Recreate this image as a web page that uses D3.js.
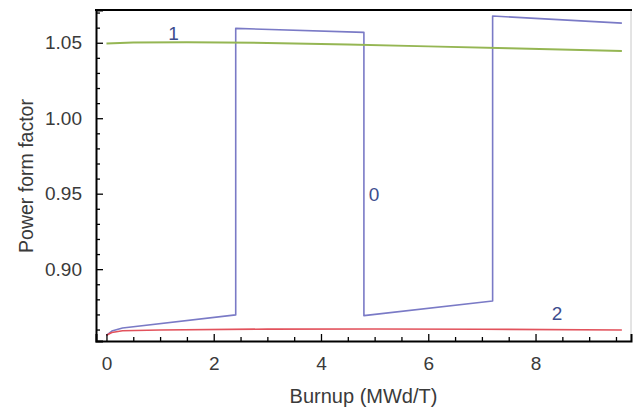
<!DOCTYPE html>
<html>
<head>
<meta charset="utf-8">
<script src="https://cdnjs.cloudflare.com/ajax/libs/d3/7.8.5/d3.min.js"></script>
<style>
  body { margin: 0; background: #fff; }
  text { font-family: "Liberation Sans", Arial, sans-serif; }
</style>
</head>
<body>
<div class="chart"></div>
<script>
// burnup (MWd/T) and power form factor for each curve
var burnup0 = [0, 0.1, 0.3, 2.41, 2.41, 4.80, 4.80, 7.20, 7.20, 9.61];
var factor0 = [0.8562, 0.859, 0.861, 0.8697, 1.0595, 1.0569, 0.8692, 0.8789, 1.0677, 1.063];

var burnup1 = [0, 0.5, 1.5, 3, 4.5, 6, 7.5, 9.61];
var factor1 = [1.0495, 1.0501, 1.0504, 1.0499, 1.0489, 1.0476, 1.0463, 1.0445];

var burnup2 = [0, 0.1, 0.3, 1, 3, 5, 7, 9.61];
var factor2 = [0.8562, 0.858, 0.8592, 0.8597, 0.8603, 0.8604, 0.8602, 0.8597];

var curveNames = ["0", "1", "2"];
var labelBurnup = [4.99, 1.25, 8.4];
var labelFactor = [0.9495, 1.0565, 0.8705];

var xTicks = [0, 2, 4, 6, 8];
var yTicks = [0.90, 0.95, 1.00, 1.05];

var w = 633;
var h = 408;
// frame edges (don't call it "top", that's window.top)
var frameL = 96, frameR = 631, frameT = 10, frameB = 341;

var svg = d3.select(".chart")
	.append("svg")
	.attr("width", w)
	.attr("height", h);

var x = d3.scaleLinear().domain([-0.195, 9.78]).range([frameL, frameR]);
var y = d3.scaleLinear().domain([0.8524, 1.0717]).range([frameB, frameT]);

// minor ticks every 0.5 on x and 0.01 on y
var xMinor = d3.range(0.5, 9.6, 0.5).filter(function(d) { return xTicks.indexOf(d) < 0; });
var yMinor = d3.range(0.86, 1.075, 0.01).filter(function(d) {
	return !yTicks.some(function(t) { return Math.abs(t - d) < 1e-6; });
});

// right side of the frame is light gray
svg.append("line")
	.attr("x1", frameR).attr("x2", frameR)
	.attr("y1", frameT).attr("y2", frameB)
	.attr("stroke", "#c8c8c8").attr("stroke-width", 1);

var colors = ["#7a7ac6", "#95b653", "#e2525c"];
var series = [
	d3.zip(burnup0, factor0),
	d3.zip(burnup1, factor1),
	d3.zip(burnup2, factor2)
];
var line = d3.line()
	.x(function(d) { return x(d[0]); })
	.y(function(d) { return y(d[1]); });

svg.selectAll("path.curve")
	.data(series)
	.enter()
	.append("path")
	.attr("class", "curve")
	.attr("d", line)
	.attr("fill", "none")
	.attr("stroke", function(d, i) { return colors[i]; })
	.attr("stroke-width", function(d, i) { return i == 1 ? 2 : 1.6; })
	.attr("stroke-linejoin", "round");

// bottom axis, ticks pointing inside the frame
svg.append("g")
	.attr("transform", "translate(0," + frameB + ")")
	.call(d3.axisBottom(x).tickValues(xTicks).tickFormat(d3.format("d")).tickSize(-7).tickPadding(16));
svg.append("g")
	.attr("transform", "translate(0," + frameB + ")")
	.call(d3.axisBottom(x).tickValues(xMinor).tickFormat("").tickSize(-4))
	.select(".domain").remove();

svg.append("g")
	.attr("transform", "translate(" + frameL + ",0)")
	.call(d3.axisLeft(y).tickValues(yTicks).tickFormat(d3.format(".2f")).tickSize(-7).tickPadding(14));
svg.append("g")
	.attr("transform", "translate(" + frameL + ",0)")
	.call(d3.axisLeft(y).tickValues(yMinor).tickFormat("").tickSize(-4))
	.select(".domain").remove();

svg.selectAll(".domain").attr("stroke", "#000").attr("stroke-width", 2);
svg.selectAll(".tick line").attr("stroke", "#000").attr("stroke-width", 1.3);
svg.selectAll(".tick text")
	.attr("font-size", 19)
	.attr("fill", "#3a3a3a")
	.style("font-family", "'Liberation Sans', Arial, sans-serif");

// top edge of the frame
svg.append("line")
	.attr("x1", frameL - 1).attr("x2", frameR + 1)
	.attr("y1", frameT).attr("y2", frameT)
	.attr("stroke", "#000").attr("stroke-width", 2);

// curve numbers
svg.selectAll("text.name")
	.data(curveNames)
	.enter()
	.append("text")
	.attr("class", "name")
	.attr("x", function(d, i) { return x(labelBurnup[i]); })
	.attr("y", function(d, i) { return y(labelFactor[i]); })
	.attr("text-anchor", "middle")
	.attr("dy", "0.35em")
	.attr("font-size", 19)
	.attr("fill", "#3d4d8e")
	.text(function(d) { return d; });

svg.append("text")
	.attr("x", (frameL + frameR) / 2)
	.attr("y", 403)
	.attr("text-anchor", "middle")
	.attr("font-size", 20)
	.attr("fill", "#3a3a3a")
	.text("Burnup (MWd/T)");

svg.append("text")
	.attr("transform", "translate(33,176) rotate(-90)")
	.attr("text-anchor", "middle")
	.attr("font-size", 19.5)
	.attr("fill", "#3a3a3a")
	.text("Power form factor");
</script>
</body>
</html>
